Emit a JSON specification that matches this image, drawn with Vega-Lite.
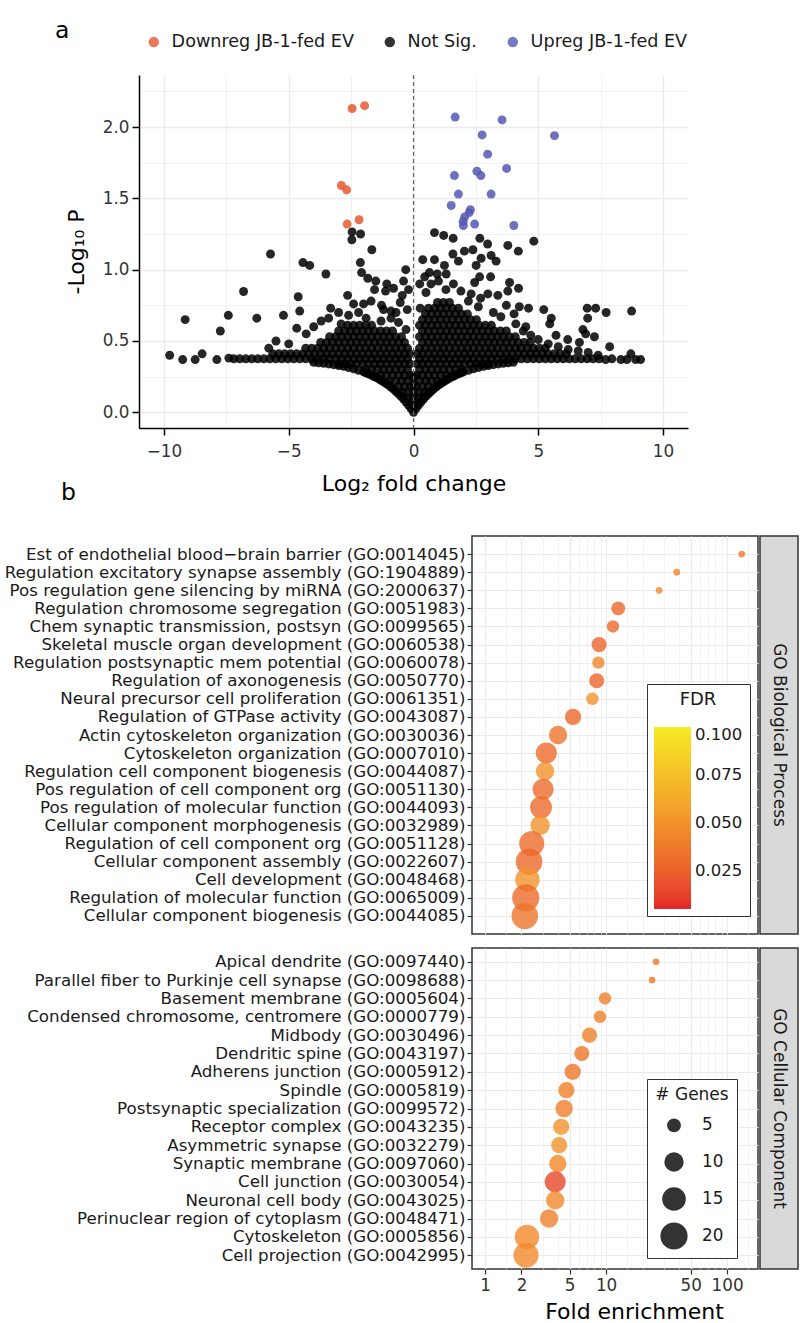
{
  "$schema": "https://vega.github.io/schema/vega-lite/v6.json",
  "background": "white",
  "padding": {"left": 2, "right": 2, "top": 18, "bottom": 0},
  "config": {
    "font": "DejaVu Sans",
    "view": {"stroke": null},
    "title": {"fontWeight": "normal", "fontSize": 23.5, "color": "#000000", "font": "DejaVu Sans"},
    "axis": {"labelFont": "DejaVu Sans", "titleFont": "DejaVu Sans", "titleFontWeight": "normal", "labelColor": "#333333", "titleColor": "#000000", "gridColor": "#EBEBEB", "labelFontSize": 16.8},
    "legend": {"labelFont": "DejaVu Sans", "titleFont": "DejaVu Sans", "titleFontWeight": "normal"}
  },
  "columns": 1,
  "spacing": -14,
  "align": "none",
  "resolve": {"scale": {"x": "independent", "y": "independent", "color": "independent", "size": "independent"}},
  "concat": [
    {
      "spacing": 0,
      "resolve": {"scale": {"x": "independent", "y": "independent", "color": "independent", "size": "independent"}},
      "hconcat": [
        {"width": 53, "height": 10, "data": {"values": [{"k": 1}]}, "mark": {"type": "text", "text": ""}, "encoding": {}},
        {
          "width": 549,
          "height": 353,
          "title": {"text": "a", "anchor": "start", "frame": "group", "dx": -84, "offset": -9},
          "layer": [
            {
              "data": {"values": [
{"lfc":0,"nlp":0,"g":"N"},{"lfc":0,"nlp":0.05,"g":"N"},{"lfc":0,"nlp":0.1,"g":"N"},{"lfc":0,"nlp":0.15,"g":"N"},{"lfc":0,"nlp":0.2,"g":"N"},{"lfc":0,"nlp":0.25,"g":"N"},
{"lfc":-0.1,"nlp":0.026,"g":"N"},{"lfc":-0.2,"nlp":0.05,"g":"N"},{"lfc":-0.3,"nlp":0.072,"g":"N"},{"lfc":-0.4,"nlp":0.093,"g":"N"},{"lfc":-0.5,"nlp":0.112,"g":"N"},{"lfc":-0.6,"nlp":0.13,"g":"N"},{"lfc":-0.7,"nlp":0.146,"g":"N"},{"lfc":-0.8,"nlp":0.162,"g":"N"},{"lfc":-0.9,"nlp":0.176,"g":"N"},{"lfc":-1.0,"nlp":0.19,"g":"N"},{"lfc":-1.1,"nlp":0.202,"g":"N"},{"lfc":-1.2,"nlp":0.214,"g":"N"},{"lfc":-1.3,"nlp":0.225,"g":"N"},{"lfc":-1.4,"nlp":0.235,"g":"N"},{"lfc":-1.5,"nlp":0.245,"g":"N"},{"lfc":-1.6,"nlp":0.253,"g":"N"},{"lfc":-1.7,"nlp":0.262,"g":"N"},{"lfc":-1.8,"nlp":0.269,"g":"N"},{"lfc":-1.9,"nlp":0.276,"g":"N"},{"lfc":-2.0,"nlp":0.283,"g":"N"},{"lfc":-2.2,"nlp":0.295,"g":"N"},{"lfc":-2.4,"nlp":0.305,"g":"N"},{"lfc":-2.6,"nlp":0.314,"g":"N"},{"lfc":-2.8,"nlp":0.322,"g":"N"},{"lfc":-3.0,"nlp":0.328,"g":"N"},{"lfc":-3.2,"nlp":0.334,"g":"N"},{"lfc":-3.4,"nlp":0.339,"g":"N"},{"lfc":-3.6,"nlp":0.344,"g":"N"},{"lfc":-3.8,"nlp":0.347,"g":"N"},{"lfc":-4.0,"nlp":0.351,"g":"N"},
{"lfc":0.1,"nlp":0.026,"g":"N"},{"lfc":0.2,"nlp":0.05,"g":"N"},{"lfc":0.3,"nlp":0.072,"g":"N"},{"lfc":0.4,"nlp":0.093,"g":"N"},{"lfc":0.5,"nlp":0.112,"g":"N"},{"lfc":0.6,"nlp":0.13,"g":"N"},{"lfc":0.7,"nlp":0.146,"g":"N"},{"lfc":0.8,"nlp":0.162,"g":"N"},{"lfc":0.9,"nlp":0.176,"g":"N"},{"lfc":1.0,"nlp":0.19,"g":"N"},{"lfc":1.1,"nlp":0.202,"g":"N"},{"lfc":1.2,"nlp":0.214,"g":"N"},{"lfc":1.3,"nlp":0.225,"g":"N"},{"lfc":1.4,"nlp":0.235,"g":"N"},{"lfc":1.5,"nlp":0.245,"g":"N"},{"lfc":1.6,"nlp":0.253,"g":"N"},{"lfc":1.7,"nlp":0.262,"g":"N"},{"lfc":1.8,"nlp":0.269,"g":"N"},{"lfc":1.9,"nlp":0.276,"g":"N"},{"lfc":2.0,"nlp":0.283,"g":"N"},{"lfc":2.2,"nlp":0.295,"g":"N"},{"lfc":2.4,"nlp":0.305,"g":"N"},{"lfc":2.6,"nlp":0.314,"g":"N"},{"lfc":2.8,"nlp":0.322,"g":"N"},{"lfc":3.0,"nlp":0.328,"g":"N"},{"lfc":3.2,"nlp":0.334,"g":"N"},{"lfc":3.4,"nlp":0.339,"g":"N"},{"lfc":3.6,"nlp":0.344,"g":"N"},{"lfc":3.8,"nlp":0.347,"g":"N"},{"lfc":4.0,"nlp":0.351,"g":"N"},
{"lfc":-0.2,"nlp":0.1,"g":"N"},{"lfc":0.2,"nlp":0.1,"g":"N"},
{"lfc":-0.22,"nlp":0.14,"g":"N"},{"lfc":-0.44,"nlp":0.14,"g":"N"},{"lfc":0.22,"nlp":0.14,"g":"N"},{"lfc":0.44,"nlp":0.14,"g":"N"},
{"lfc":-0.12,"nlp":0.18,"g":"N"},{"lfc":-0.36,"nlp":0.18,"g":"N"},{"lfc":-0.6,"nlp":0.18,"g":"N"},{"lfc":0.12,"nlp":0.18,"g":"N"},{"lfc":0.36,"nlp":0.18,"g":"N"},{"lfc":0.6,"nlp":0.18,"g":"N"},
{"lfc":-0.24,"nlp":0.22,"g":"N"},{"lfc":-0.48,"nlp":0.22,"g":"N"},{"lfc":-0.72,"nlp":0.22,"g":"N"},{"lfc":-0.96,"nlp":0.22,"g":"N"},{"lfc":0.24,"nlp":0.22,"g":"N"},{"lfc":0.48,"nlp":0.22,"g":"N"},{"lfc":0.72,"nlp":0.22,"g":"N"},{"lfc":0.96,"nlp":0.22,"g":"N"},
{"lfc":-0.12,"nlp":0.26,"g":"N"},{"lfc":-0.36,"nlp":0.26,"g":"N"},{"lfc":-0.6,"nlp":0.26,"g":"N"},{"lfc":-0.84,"nlp":0.26,"g":"N"},{"lfc":-1.08,"nlp":0.26,"g":"N"},{"lfc":-1.32,"nlp":0.26,"g":"N"},{"lfc":0.12,"nlp":0.26,"g":"N"},{"lfc":0.36,"nlp":0.26,"g":"N"},{"lfc":0.6,"nlp":0.26,"g":"N"},{"lfc":0.84,"nlp":0.26,"g":"N"},{"lfc":1.08,"nlp":0.26,"g":"N"},{"lfc":1.32,"nlp":0.26,"g":"N"},
{"lfc":-0.24,"nlp":0.3,"g":"N"},{"lfc":-0.48,"nlp":0.3,"g":"N"},{"lfc":-0.72,"nlp":0.3,"g":"N"},{"lfc":-0.96,"nlp":0.3,"g":"N"},{"lfc":-1.2,"nlp":0.3,"g":"N"},{"lfc":-1.44,"nlp":0.3,"g":"N"},{"lfc":-1.68,"nlp":0.3,"g":"N"},{"lfc":-1.92,"nlp":0.3,"g":"N"},{"lfc":0.24,"nlp":0.3,"g":"N"},{"lfc":0.48,"nlp":0.3,"g":"N"},{"lfc":0.72,"nlp":0.3,"g":"N"},{"lfc":0.96,"nlp":0.3,"g":"N"},{"lfc":1.2,"nlp":0.3,"g":"N"},{"lfc":1.44,"nlp":0.3,"g":"N"},{"lfc":1.68,"nlp":0.3,"g":"N"},{"lfc":1.92,"nlp":0.3,"g":"N"},
{"lfc":-0.14,"nlp":0.34,"g":"N"},{"lfc":-0.36,"nlp":0.34,"g":"N"},{"lfc":-0.6,"nlp":0.34,"g":"N"},{"lfc":-0.84,"nlp":0.34,"g":"N"},{"lfc":-1.08,"nlp":0.34,"g":"N"},{"lfc":-1.32,"nlp":0.34,"g":"N"},{"lfc":-1.56,"nlp":0.34,"g":"N"},{"lfc":-1.8,"nlp":0.34,"g":"N"},{"lfc":-2.04,"nlp":0.34,"g":"N"},{"lfc":-2.28,"nlp":0.34,"g":"N"},{"lfc":-2.52,"nlp":0.34,"g":"N"},{"lfc":-2.76,"nlp":0.34,"g":"N"},{"lfc":-3.0,"nlp":0.34,"g":"N"},
{"lfc":0.14,"nlp":0.34,"g":"N"},{"lfc":0.36,"nlp":0.34,"g":"N"},{"lfc":0.6,"nlp":0.34,"g":"N"},{"lfc":0.84,"nlp":0.34,"g":"N"},{"lfc":1.08,"nlp":0.34,"g":"N"},{"lfc":1.32,"nlp":0.34,"g":"N"},{"lfc":1.56,"nlp":0.34,"g":"N"},{"lfc":1.8,"nlp":0.34,"g":"N"},{"lfc":2.04,"nlp":0.34,"g":"N"},{"lfc":2.28,"nlp":0.34,"g":"N"},{"lfc":2.52,"nlp":0.34,"g":"N"},{"lfc":2.76,"nlp":0.34,"g":"N"},{"lfc":3.0,"nlp":0.34,"g":"N"},
{"lfc":-0.24,"nlp":0.375,"g":"N"},{"lfc":-0.48,"nlp":0.375,"g":"N"},{"lfc":-0.72,"nlp":0.375,"g":"N"},{"lfc":-0.96,"nlp":0.375,"g":"N"},{"lfc":-1.2,"nlp":0.375,"g":"N"},{"lfc":-1.44,"nlp":0.375,"g":"N"},{"lfc":-1.68,"nlp":0.375,"g":"N"},{"lfc":-1.92,"nlp":0.375,"g":"N"},{"lfc":-2.16,"nlp":0.375,"g":"N"},{"lfc":-2.4,"nlp":0.375,"g":"N"},{"lfc":-2.64,"nlp":0.375,"g":"N"},{"lfc":-2.88,"nlp":0.375,"g":"N"},{"lfc":-3.12,"nlp":0.375,"g":"N"},{"lfc":-3.36,"nlp":0.375,"g":"N"},{"lfc":-3.6,"nlp":0.375,"g":"N"},{"lfc":-3.84,"nlp":0.375,"g":"N"},{"lfc":-4.08,"nlp":0.375,"g":"N"},{"lfc":-4.32,"nlp":0.375,"g":"N"},{"lfc":-4.56,"nlp":0.375,"g":"N"},{"lfc":-4.8,"nlp":0.375,"g":"N"},{"lfc":-5.04,"nlp":0.375,"g":"N"},{"lfc":-5.28,"nlp":0.375,"g":"N"},{"lfc":-5.52,"nlp":0.375,"g":"N"},{"lfc":-5.76,"nlp":0.375,"g":"N"},{"lfc":-6.0,"nlp":0.375,"g":"N"},{"lfc":-6.24,"nlp":0.375,"g":"N"},{"lfc":-6.48,"nlp":0.375,"g":"N"},{"lfc":-6.72,"nlp":0.375,"g":"N"},{"lfc":-6.96,"nlp":0.375,"g":"N"},{"lfc":-7.2,"nlp":0.375,"g":"N"},
{"lfc":0.24,"nlp":0.375,"g":"N"},{"lfc":0.48,"nlp":0.375,"g":"N"},{"lfc":0.72,"nlp":0.375,"g":"N"},{"lfc":0.96,"nlp":0.375,"g":"N"},{"lfc":1.2,"nlp":0.375,"g":"N"},{"lfc":1.44,"nlp":0.375,"g":"N"},{"lfc":1.68,"nlp":0.375,"g":"N"},{"lfc":1.92,"nlp":0.375,"g":"N"},{"lfc":2.16,"nlp":0.375,"g":"N"},{"lfc":2.4,"nlp":0.375,"g":"N"},{"lfc":2.64,"nlp":0.375,"g":"N"},{"lfc":2.88,"nlp":0.375,"g":"N"},{"lfc":3.12,"nlp":0.375,"g":"N"},{"lfc":3.36,"nlp":0.375,"g":"N"},{"lfc":3.6,"nlp":0.375,"g":"N"},{"lfc":3.84,"nlp":0.375,"g":"N"},{"lfc":4.08,"nlp":0.375,"g":"N"},{"lfc":4.32,"nlp":0.375,"g":"N"},{"lfc":4.56,"nlp":0.375,"g":"N"},{"lfc":4.8,"nlp":0.375,"g":"N"},{"lfc":5.04,"nlp":0.375,"g":"N"},{"lfc":5.28,"nlp":0.375,"g":"N"},{"lfc":5.52,"nlp":0.375,"g":"N"},{"lfc":5.76,"nlp":0.375,"g":"N"},{"lfc":6.0,"nlp":0.375,"g":"N"},{"lfc":6.24,"nlp":0.375,"g":"N"},{"lfc":6.48,"nlp":0.375,"g":"N"},{"lfc":6.72,"nlp":0.375,"g":"N"},{"lfc":6.96,"nlp":0.375,"g":"N"},{"lfc":7.2,"nlp":0.375,"g":"N"},{"lfc":7.44,"nlp":0.375,"g":"N"},
{"lfc":-0.14,"nlp":0.41,"g":"N"},{"lfc":-0.36,"nlp":0.41,"g":"N"},{"lfc":-0.6,"nlp":0.41,"g":"N"},{"lfc":-0.84,"nlp":0.41,"g":"N"},{"lfc":-1.08,"nlp":0.41,"g":"N"},{"lfc":-1.32,"nlp":0.41,"g":"N"},{"lfc":-1.56,"nlp":0.41,"g":"N"},{"lfc":-1.8,"nlp":0.41,"g":"N"},{"lfc":-2.04,"nlp":0.41,"g":"N"},{"lfc":-2.28,"nlp":0.41,"g":"N"},{"lfc":-2.52,"nlp":0.41,"g":"N"},{"lfc":-2.76,"nlp":0.41,"g":"N"},{"lfc":-3.0,"nlp":0.41,"g":"N"},{"lfc":-3.24,"nlp":0.41,"g":"N"},{"lfc":-3.48,"nlp":0.41,"g":"N"},{"lfc":-3.72,"nlp":0.41,"g":"N"},{"lfc":-3.96,"nlp":0.41,"g":"N"},{"lfc":-4.2,"nlp":0.41,"g":"N"},{"lfc":-4.44,"nlp":0.41,"g":"N"},{"lfc":-4.68,"nlp":0.41,"g":"N"},{"lfc":-4.92,"nlp":0.41,"g":"N"},{"lfc":-5.16,"nlp":0.41,"g":"N"},{"lfc":-5.4,"nlp":0.41,"g":"N"},{"lfc":-5.64,"nlp":0.41,"g":"N"},
{"lfc":-0.24,"nlp":0.45,"g":"N"},{"lfc":-0.48,"nlp":0.45,"g":"N"},{"lfc":-0.72,"nlp":0.45,"g":"N"},{"lfc":-0.96,"nlp":0.45,"g":"N"},{"lfc":-1.2,"nlp":0.45,"g":"N"},{"lfc":-1.44,"nlp":0.45,"g":"N"},{"lfc":-1.68,"nlp":0.45,"g":"N"},{"lfc":-1.92,"nlp":0.45,"g":"N"},{"lfc":-2.16,"nlp":0.45,"g":"N"},{"lfc":-2.4,"nlp":0.45,"g":"N"},{"lfc":-2.64,"nlp":0.45,"g":"N"},{"lfc":-2.88,"nlp":0.45,"g":"N"},{"lfc":-3.12,"nlp":0.45,"g":"N"},{"lfc":-3.36,"nlp":0.45,"g":"N"},{"lfc":-3.6,"nlp":0.45,"g":"N"},{"lfc":-3.84,"nlp":0.45,"g":"N"},{"lfc":-4.08,"nlp":0.45,"g":"N"},{"lfc":-4.32,"nlp":0.45,"g":"N"},
{"lfc":-0.36,"nlp":0.49,"g":"N"},{"lfc":-0.6,"nlp":0.49,"g":"N"},{"lfc":-0.84,"nlp":0.49,"g":"N"},{"lfc":-1.08,"nlp":0.49,"g":"N"},{"lfc":-1.32,"nlp":0.49,"g":"N"},{"lfc":-1.56,"nlp":0.49,"g":"N"},{"lfc":-1.8,"nlp":0.49,"g":"N"},{"lfc":-2.04,"nlp":0.49,"g":"N"},{"lfc":-2.28,"nlp":0.49,"g":"N"},{"lfc":-2.52,"nlp":0.49,"g":"N"},{"lfc":-2.76,"nlp":0.49,"g":"N"},{"lfc":-3.0,"nlp":0.49,"g":"N"},{"lfc":-3.24,"nlp":0.49,"g":"N"},{"lfc":-3.48,"nlp":0.49,"g":"N"},{"lfc":-3.72,"nlp":0.49,"g":"N"},
{"lfc":-0.48,"nlp":0.53,"g":"N"},{"lfc":-0.72,"nlp":0.53,"g":"N"},{"lfc":-0.96,"nlp":0.53,"g":"N"},{"lfc":-1.2,"nlp":0.53,"g":"N"},{"lfc":-1.44,"nlp":0.53,"g":"N"},{"lfc":-1.68,"nlp":0.53,"g":"N"},{"lfc":-1.92,"nlp":0.53,"g":"N"},{"lfc":-2.16,"nlp":0.53,"g":"N"},{"lfc":-2.4,"nlp":0.53,"g":"N"},{"lfc":-2.64,"nlp":0.53,"g":"N"},{"lfc":-2.88,"nlp":0.53,"g":"N"},{"lfc":-3.12,"nlp":0.53,"g":"N"},{"lfc":-3.36,"nlp":0.53,"g":"N"},
{"lfc":-0.84,"nlp":0.57,"g":"N"},{"lfc":-1.08,"nlp":0.57,"g":"N"},{"lfc":-1.32,"nlp":0.57,"g":"N"},{"lfc":-1.56,"nlp":0.57,"g":"N"},{"lfc":-1.8,"nlp":0.57,"g":"N"},{"lfc":-2.04,"nlp":0.57,"g":"N"},{"lfc":-2.28,"nlp":0.57,"g":"N"},{"lfc":-2.52,"nlp":0.57,"g":"N"},{"lfc":-2.76,"nlp":0.57,"g":"N"},{"lfc":-3.0,"nlp":0.57,"g":"N"},
{"lfc":-1.68,"nlp":0.61,"g":"N"},{"lfc":-1.92,"nlp":0.61,"g":"N"},{"lfc":-2.16,"nlp":0.61,"g":"N"},{"lfc":-2.4,"nlp":0.61,"g":"N"},{"lfc":-2.64,"nlp":0.61,"g":"N"},
{"lfc":0.14,"nlp":0.41,"g":"N"},{"lfc":0.36,"nlp":0.41,"g":"N"},{"lfc":0.6,"nlp":0.41,"g":"N"},{"lfc":0.84,"nlp":0.41,"g":"N"},{"lfc":1.08,"nlp":0.41,"g":"N"},{"lfc":1.32,"nlp":0.41,"g":"N"},{"lfc":1.56,"nlp":0.41,"g":"N"},{"lfc":1.8,"nlp":0.41,"g":"N"},{"lfc":2.04,"nlp":0.41,"g":"N"},{"lfc":2.28,"nlp":0.41,"g":"N"},{"lfc":2.52,"nlp":0.41,"g":"N"},{"lfc":2.76,"nlp":0.41,"g":"N"},{"lfc":3.0,"nlp":0.41,"g":"N"},{"lfc":3.24,"nlp":0.41,"g":"N"},{"lfc":3.48,"nlp":0.41,"g":"N"},{"lfc":3.72,"nlp":0.41,"g":"N"},{"lfc":3.96,"nlp":0.41,"g":"N"},{"lfc":4.2,"nlp":0.41,"g":"N"},{"lfc":4.44,"nlp":0.41,"g":"N"},{"lfc":4.68,"nlp":0.41,"g":"N"},{"lfc":4.92,"nlp":0.41,"g":"N"},{"lfc":5.16,"nlp":0.41,"g":"N"},{"lfc":5.4,"nlp":0.41,"g":"N"},{"lfc":5.64,"nlp":0.41,"g":"N"},{"lfc":5.88,"nlp":0.41,"g":"N"},{"lfc":6.12,"nlp":0.41,"g":"N"},
{"lfc":0.24,"nlp":0.45,"g":"N"},{"lfc":0.48,"nlp":0.45,"g":"N"},{"lfc":0.72,"nlp":0.45,"g":"N"},{"lfc":0.96,"nlp":0.45,"g":"N"},{"lfc":1.2,"nlp":0.45,"g":"N"},{"lfc":1.44,"nlp":0.45,"g":"N"},{"lfc":1.68,"nlp":0.45,"g":"N"},{"lfc":1.92,"nlp":0.45,"g":"N"},{"lfc":2.16,"nlp":0.45,"g":"N"},{"lfc":2.4,"nlp":0.45,"g":"N"},{"lfc":2.64,"nlp":0.45,"g":"N"},{"lfc":2.88,"nlp":0.45,"g":"N"},{"lfc":3.12,"nlp":0.45,"g":"N"},{"lfc":3.36,"nlp":0.45,"g":"N"},{"lfc":3.6,"nlp":0.45,"g":"N"},{"lfc":3.84,"nlp":0.45,"g":"N"},{"lfc":4.08,"nlp":0.45,"g":"N"},{"lfc":4.32,"nlp":0.45,"g":"N"},{"lfc":4.56,"nlp":0.45,"g":"N"},{"lfc":4.8,"nlp":0.45,"g":"N"},{"lfc":5.04,"nlp":0.45,"g":"N"},{"lfc":5.28,"nlp":0.45,"g":"N"},
{"lfc":0.36,"nlp":0.49,"g":"N"},{"lfc":0.6,"nlp":0.49,"g":"N"},{"lfc":0.84,"nlp":0.49,"g":"N"},{"lfc":1.08,"nlp":0.49,"g":"N"},{"lfc":1.32,"nlp":0.49,"g":"N"},{"lfc":1.56,"nlp":0.49,"g":"N"},{"lfc":1.8,"nlp":0.49,"g":"N"},{"lfc":2.04,"nlp":0.49,"g":"N"},{"lfc":2.28,"nlp":0.49,"g":"N"},{"lfc":2.52,"nlp":0.49,"g":"N"},{"lfc":2.76,"nlp":0.49,"g":"N"},{"lfc":3.0,"nlp":0.49,"g":"N"},{"lfc":3.24,"nlp":0.49,"g":"N"},{"lfc":3.48,"nlp":0.49,"g":"N"},{"lfc":3.72,"nlp":0.49,"g":"N"},{"lfc":3.96,"nlp":0.49,"g":"N"},{"lfc":4.2,"nlp":0.49,"g":"N"},{"lfc":4.44,"nlp":0.49,"g":"N"},{"lfc":4.68,"nlp":0.49,"g":"N"},
{"lfc":0.24,"nlp":0.53,"g":"N"},{"lfc":0.48,"nlp":0.53,"g":"N"},{"lfc":0.72,"nlp":0.53,"g":"N"},{"lfc":0.96,"nlp":0.53,"g":"N"},{"lfc":1.2,"nlp":0.53,"g":"N"},{"lfc":1.44,"nlp":0.53,"g":"N"},{"lfc":1.68,"nlp":0.53,"g":"N"},{"lfc":1.92,"nlp":0.53,"g":"N"},{"lfc":2.16,"nlp":0.53,"g":"N"},{"lfc":2.4,"nlp":0.53,"g":"N"},{"lfc":2.64,"nlp":0.53,"g":"N"},{"lfc":2.88,"nlp":0.53,"g":"N"},{"lfc":3.12,"nlp":0.53,"g":"N"},{"lfc":3.36,"nlp":0.53,"g":"N"},{"lfc":3.6,"nlp":0.53,"g":"N"},{"lfc":3.84,"nlp":0.53,"g":"N"},{"lfc":4.08,"nlp":0.53,"g":"N"},
{"lfc":0.36,"nlp":0.57,"g":"N"},{"lfc":0.6,"nlp":0.57,"g":"N"},{"lfc":0.84,"nlp":0.57,"g":"N"},{"lfc":1.08,"nlp":0.57,"g":"N"},{"lfc":1.32,"nlp":0.57,"g":"N"},{"lfc":1.56,"nlp":0.57,"g":"N"},{"lfc":1.8,"nlp":0.57,"g":"N"},{"lfc":2.04,"nlp":0.57,"g":"N"},{"lfc":2.28,"nlp":0.57,"g":"N"},{"lfc":2.52,"nlp":0.57,"g":"N"},{"lfc":2.76,"nlp":0.57,"g":"N"},{"lfc":3.0,"nlp":0.57,"g":"N"},{"lfc":3.24,"nlp":0.57,"g":"N"},{"lfc":3.48,"nlp":0.57,"g":"N"},{"lfc":3.72,"nlp":0.57,"g":"N"},
{"lfc":0.24,"nlp":0.61,"g":"N"},{"lfc":0.48,"nlp":0.61,"g":"N"},{"lfc":0.72,"nlp":0.61,"g":"N"},{"lfc":0.96,"nlp":0.61,"g":"N"},{"lfc":1.2,"nlp":0.61,"g":"N"},{"lfc":1.44,"nlp":0.61,"g":"N"},{"lfc":1.68,"nlp":0.61,"g":"N"},{"lfc":1.92,"nlp":0.61,"g":"N"},{"lfc":2.16,"nlp":0.61,"g":"N"},{"lfc":2.4,"nlp":0.61,"g":"N"},{"lfc":2.64,"nlp":0.61,"g":"N"},{"lfc":2.88,"nlp":0.61,"g":"N"},{"lfc":3.12,"nlp":0.61,"g":"N"},
{"lfc":0.36,"nlp":0.65,"g":"N"},{"lfc":0.6,"nlp":0.65,"g":"N"},{"lfc":0.84,"nlp":0.65,"g":"N"},{"lfc":1.08,"nlp":0.65,"g":"N"},{"lfc":1.32,"nlp":0.65,"g":"N"},{"lfc":1.56,"nlp":0.65,"g":"N"},{"lfc":1.8,"nlp":0.65,"g":"N"},{"lfc":2.04,"nlp":0.65,"g":"N"},{"lfc":2.28,"nlp":0.65,"g":"N"},{"lfc":2.52,"nlp":0.65,"g":"N"},
{"lfc":0.48,"nlp":0.69,"g":"N"},{"lfc":0.72,"nlp":0.69,"g":"N"},{"lfc":0.96,"nlp":0.69,"g":"N"},{"lfc":1.2,"nlp":0.69,"g":"N"},{"lfc":1.44,"nlp":0.69,"g":"N"},{"lfc":1.68,"nlp":0.69,"g":"N"},{"lfc":1.92,"nlp":0.69,"g":"N"},{"lfc":2.16,"nlp":0.69,"g":"N"},
{"lfc":0.6,"nlp":0.73,"g":"N"},{"lfc":0.84,"nlp":0.73,"g":"N"},{"lfc":1.08,"nlp":0.73,"g":"N"},{"lfc":1.32,"nlp":0.73,"g":"N"},{"lfc":1.56,"nlp":0.73,"g":"N"},{"lfc":1.8,"nlp":0.73,"g":"N"},
{"lfc":0.96,"nlp":0.77,"g":"N"},{"lfc":1.2,"nlp":0.77,"g":"N"},{"lfc":1.44,"nlp":0.77,"g":"N"},
{"lfc":-2.46,"nlp":1.265,"g":"N"},{"lfc":-2.47,"nlp":1.21,"g":"N"},{"lfc":-2.12,"nlp":1.25,"g":"N"},{"lfc":-1.67,"nlp":1.14,"g":"N"},{"lfc":-5.73,"nlp":1.11,"g":"N"},{"lfc":-4.43,"nlp":1.05,"g":"N"},{"lfc":-4.16,"nlp":1.03,"g":"N"},{"lfc":-3.51,"nlp":0.97,"g":"N"},{"lfc":-2.13,"nlp":1.05,"g":"N"},{"lfc":-2.08,"nlp":0.98,"g":"N"},{"lfc":-0.31,"nlp":1.0,"g":"N"},{"lfc":-0.4,"nlp":0.92,"g":"N"},{"lfc":-1.07,"nlp":0.9,"g":"N"},{"lfc":-0.8,"nlp":0.87,"g":"N"},{"lfc":-1.51,"nlp":0.92,"g":"N"},{"lfc":-1.83,"nlp":0.94,"g":"N"},{"lfc":-6.81,"nlp":0.847,"g":"N"},{"lfc":-4.62,"nlp":0.81,"g":"N"},{"lfc":-2.64,"nlp":0.82,"g":"N"},{"lfc":-0.53,"nlp":0.77,"g":"N"},{"lfc":-1.7,"nlp":0.78,"g":"N"},{"lfc":-9.15,"nlp":0.65,"g":"N"},{"lfc":-7.42,"nlp":0.68,"g":"N"},{"lfc":-6.28,"nlp":0.66,"g":"N"},{"lfc":-5.21,"nlp":0.68,"g":"N"},{"lfc":-7.74,"nlp":0.57,"g":"N"},{"lfc":-9.77,"nlp":0.4,"g":"N"},{"lfc":-9.25,"nlp":0.37,"g":"N"},{"lfc":-8.75,"nlp":0.37,"g":"N"},{"lfc":-8.47,"nlp":0.41,"g":"N"},{"lfc":-7.88,"nlp":0.37,"g":"N"},{"lfc":-7.4,"nlp":0.38,"g":"N"},{"lfc":-5.51,"nlp":0.5,"g":"N"},{"lfc":-4.68,"nlp":0.59,"g":"N"},{"lfc":-4.56,"nlp":0.71,"g":"N"},{"lfc":-3.32,"nlp":0.73,"g":"N"},
{"lfc":-3.4,"nlp":0.66,"g":"N"},{"lfc":-3.0,"nlp":0.7,"g":"N"},{"lfc":-2.6,"nlp":0.68,"g":"N"},{"lfc":-2.2,"nlp":0.7,"g":"N"},{"lfc":-1.9,"nlp":0.66,"g":"N"},{"lfc":-1.3,"nlp":0.64,"g":"N"},{"lfc":-0.9,"nlp":0.66,"g":"N"},{"lfc":-0.6,"nlp":0.63,"g":"N"},{"lfc":-0.3,"nlp":0.58,"g":"N"},{"lfc":-4.0,"nlp":0.6,"g":"N"},{"lfc":-4.3,"nlp":0.55,"g":"N"},{"lfc":-2.0,"nlp":0.76,"g":"N"},{"lfc":-1.2,"nlp":0.72,"g":"N"},{"lfc":-0.7,"nlp":0.7,"g":"N"},{"lfc":-1.28,"nlp":0.75,"g":"N"},{"lfc":-0.9,"nlp":0.71,"g":"N"},{"lfc":-0.25,"nlp":0.72,"g":"N"},{"lfc":-0.45,"nlp":0.82,"g":"N"},{"lfc":-1.56,"nlp":0.86,"g":"N"},{"lfc":-2.4,"nlp":0.76,"g":"N"},{"lfc":-5.0,"nlp":0.48,"g":"N"},{"lfc":-5.8,"nlp":0.45,"g":"N"},{"lfc":-1.12,"nlp":0.85,"g":"N"},{"lfc":-0.2,"nlp":0.86,"g":"N"},{"lfc":-2.9,"nlp":0.62,"g":"N"},{"lfc":-3.7,"nlp":0.64,"g":"N"},
{"lfc":0.84,"nlp":1.26,"g":"N"},{"lfc":1.21,"nlp":1.24,"g":"N"},{"lfc":1.59,"nlp":1.22,"g":"N"},{"lfc":2.66,"nlp":1.22,"g":"N"},{"lfc":2.97,"nlp":1.18,"g":"N"},{"lfc":4.82,"nlp":1.2,"g":"N"},{"lfc":3.78,"nlp":1.17,"g":"N"},{"lfc":4.2,"nlp":1.13,"g":"N"},{"lfc":1.58,"nlp":1.11,"g":"N"},{"lfc":2.04,"nlp":1.13,"g":"N"},{"lfc":2.38,"nlp":1.14,"g":"N"},{"lfc":0.37,"nlp":1.07,"g":"N"},{"lfc":0.84,"nlp":1.07,"g":"N"},{"lfc":1.24,"nlp":1.03,"g":"N"},{"lfc":1.8,"nlp":1.06,"g":"N"},{"lfc":2.51,"nlp":1.03,"g":"N"},{"lfc":2.71,"nlp":1.08,"g":"N"},{"lfc":3.11,"nlp":1.1,"g":"N"},{"lfc":3.31,"nlp":1.06,"g":"N"},{"lfc":0.64,"nlp":0.98,"g":"N"},{"lfc":0.95,"nlp":0.97,"g":"N"},{"lfc":1.31,"nlp":0.97,"g":"N"},{"lfc":2.65,"nlp":0.95,"g":"N"},{"lfc":3.09,"nlp":0.95,"g":"N"},{"lfc":2.45,"nlp":0.91,"g":"N"},{"lfc":3.85,"nlp":0.91,"g":"N"},{"lfc":4.21,"nlp":0.87,"g":"N"},{"lfc":3.78,"nlp":0.85,"g":"N"},{"lfc":3.38,"nlp":0.82,"g":"N"},{"lfc":2.98,"nlp":0.83,"g":"N"},{"lfc":2.69,"nlp":0.8,"g":"N"},{"lfc":2.31,"nlp":0.83,"g":"N"},{"lfc":4.61,"nlp":0.73,"g":"N"},{"lfc":5.22,"nlp":0.72,"g":"N"},{"lfc":5.52,"nlp":0.66,"g":"N"},{"lfc":6.96,"nlp":0.73,"g":"N"},{"lfc":7.3,"nlp":0.73,"g":"N"},{"lfc":7.72,"nlp":0.7,"g":"N"},{"lfc":8.74,"nlp":0.71,"g":"N"},{"lfc":6.98,"nlp":0.66,"g":"N"},{"lfc":6.79,"nlp":0.58,"g":"N"},{"lfc":6.9,"nlp":0.55,"g":"N"},{"lfc":7.25,"nlp":0.53,"g":"N"},{"lfc":7.86,"nlp":0.46,"g":"N"},{"lfc":6.18,"nlp":0.51,"g":"N"},{"lfc":5.71,"nlp":0.54,"g":"N"},{"lfc":6.65,"nlp":0.49,"g":"N"},{"lfc":0.27,"nlp":0.73,"g":"N"},{"lfc":4.24,"nlp":0.74,"g":"N"},{"lfc":3.72,"nlp":0.75,"g":"N"},{"lfc":8.31,"nlp":0.37,"g":"N"},{"lfc":9.1,"nlp":0.37,"g":"N"},{"lfc":8.71,"nlp":0.41,"g":"N"},{"lfc":7.7,"nlp":0.37,"g":"N"},{"lfc":7.95,"nlp":0.375,"g":"N"},{"lfc":8.55,"nlp":0.37,"g":"N"},{"lfc":8.9,"nlp":0.37,"g":"N"},{"lfc":5.46,"nlp":0.62,"g":"N"},{"lfc":4.03,"nlp":0.69,"g":"N"},{"lfc":4.5,"nlp":0.6,"g":"N"},
{"lfc":0.5,"nlp":0.84,"g":"N"},{"lfc":0.7,"nlp":0.9,"g":"N"},{"lfc":1.0,"nlp":0.92,"g":"N"},{"lfc":1.6,"nlp":0.9,"g":"N"},{"lfc":1.9,"nlp":0.85,"g":"N"},{"lfc":2.2,"nlp":0.78,"g":"N"},{"lfc":2.6,"nlp":0.74,"g":"N"},{"lfc":3.2,"nlp":0.7,"g":"N"},{"lfc":3.5,"nlp":0.67,"g":"N"},{"lfc":4.1,"nlp":0.62,"g":"N"},{"lfc":4.4,"nlp":0.57,"g":"N"},{"lfc":4.7,"nlp":0.54,"g":"N"},{"lfc":5.0,"nlp":0.51,"g":"N"},{"lfc":5.4,"nlp":0.48,"g":"N"},{"lfc":5.8,"nlp":0.46,"g":"N"},{"lfc":6.2,"nlp":0.44,"g":"N"},{"lfc":6.6,"nlp":0.43,"g":"N"},{"lfc":7.0,"nlp":0.42,"g":"N"},{"lfc":7.4,"nlp":0.4,"g":"N"},{"lfc":0.45,"nlp":0.95,"g":"N"},{"lfc":1.3,"nlp":0.86,"g":"N"},{"lfc":0.25,"nlp":0.9,"g":"N"},
{"lfc":-2.46,"nlp":2.13,"g":"D"},{"lfc":-1.96,"nlp":2.15,"g":"D"},{"lfc":-2.89,"nlp":1.59,"g":"D"},{"lfc":-2.68,"nlp":1.56,"g":"D"},{"lfc":-2.18,"nlp":1.35,"g":"D"},{"lfc":-2.66,"nlp":1.32,"g":"D"},
{"lfc":1.67,"nlp":2.07,"g":"U"},{"lfc":3.55,"nlp":2.05,"g":"U"},{"lfc":5.65,"nlp":1.94,"g":"U"},{"lfc":2.75,"nlp":1.945,"g":"U"},{"lfc":2.97,"nlp":1.81,"g":"U"},{"lfc":3.73,"nlp":1.71,"g":"U"},{"lfc":2.54,"nlp":1.69,"g":"U"},{"lfc":2.7,"nlp":1.66,"g":"U"},{"lfc":1.64,"nlp":1.66,"g":"U"},{"lfc":1.8,"nlp":1.53,"g":"U"},{"lfc":3.11,"nlp":1.53,"g":"U"},{"lfc":1.51,"nlp":1.45,"g":"U"},{"lfc":2.28,"nlp":1.42,"g":"U"},{"lfc":2.23,"nlp":1.4,"g":"U"},{"lfc":2.05,"nlp":1.37,"g":"U"},{"lfc":1.99,"nlp":1.34,"g":"U"},{"lfc":2.0,"nlp":1.31,"g":"U"},{"lfc":2.45,"nlp":1.32,"g":"U"},{"lfc":4.02,"nlp":1.31,"g":"U"}
              ]},
              "mark": {"type": "circle", "size": 80, "opacity": 0.85},
              "encoding": {
                "x": {"field": "lfc", "type": "quantitative",
                  "scale": {"domain": [-11, 11], "nice": false, "zero": false},
                  "axis": {"title": "Log₂ fold change", "titleFontSize": 22, "titlePadding": 14,
                    "values": [-10, -7.5, -5, -2.5, 0, 2.5, 5, 7.5, 10],
                    "labelExpr": "datum.value % 5 === 0 ? datum.label : ''",
                    "labelOverlap": false, "labelPadding": 8,
                    "domainColor": "#000000", "domainWidth": 1.5, "tickColor": "#000000", "tickWidth": 1.5, "tickSize": 7,
                    "tickOpacity": {"condition": {"test": "datum.value % 5 !== 0", "value": 0}, "value": 1},
                    "gridWidth": {"condition": {"test": "datum.value % 5 !== 0", "value": 0.7}, "value": 1.4}}},
                "y": {"field": "nlp", "type": "quantitative",
                  "scale": {"domain": [-0.11, 2.365], "nice": false, "zero": false},
                  "axis": {"title": "-Log₁₀ P", "titleFontSize": 22, "titlePadding": 14,
                    "values": [0, 0.25, 0.5, 0.75, 1, 1.25, 1.5, 1.75, 2, 2.25],
                    "format": ".1f",
                    "labelExpr": "(datum.value * 4) % 2 === 0 ? datum.label : ''",
                    "labelOverlap": false, "labelPadding": 3,
                    "domainColor": "#000000", "domainWidth": 1.5, "tickColor": "#000000", "tickWidth": 1.5, "tickSize": 7,
                    "tickOpacity": {"condition": {"test": "(datum.value * 4) % 2 !== 0", "value": 0}, "value": 1},
                    "gridWidth": {"condition": {"test": "(datum.value * 4) % 2 !== 0", "value": 0.7}, "value": 1.4}}},
                "color": {"field": "g", "type": "nominal",
                  "scale": {"domain": ["D", "N", "U"], "range": ["#E55931", "#000000", "#5559B3"]},
                  "legend": {"title": null, "orient": "none", "legendX": 6, "legendY": -42, "direction": "horizontal",
                    "labelExpr": "datum.label === 'D' ? 'Downreg JB-1-fed EV' : (datum.label === 'U' ? 'Upreg JB-1-fed EV' : 'Not Sig.')",
                    "labelFontSize": 17.6, "labelColor": "#1A1A1A", "labelLimit": 0, "symbolType": "circle", "symbolSize": 110, "symbolOpacity": 0.8,
                    "labelOffset": 9, "columnPadding": 27, "padding": 0}}
              }
            },
            {
              "data": {"values": [{"lfc": 0}]},
              "mark": {"type": "rule", "strokeDash": [4, 3], "color": "#666666", "strokeWidth": 1.2},
              "encoding": {"x": {"field": "lfc", "type": "quantitative"}}
            }
          ]
        }
      ]
    },
    {
      "title": {"text": "b", "anchor": "start", "frame": "bounds", "dx": 59, "offset": 26},
      "spacing": 0,
      "resolve": {"scale": {"x": "independent", "y": "independent", "color": "independent", "size": "independent"}},
      "hconcat": [
        {"width": 1, "height": 1, "data": {"values": [{"k": 1}]}, "mark": {"type": "text", "text": ""}, "encoding": {}},
        {
          "spacing": 12,
          "resolve": {"scale": {"x": "independent", "y": "independent", "color": "independent", "size": "independent"}},
          "vconcat": [
            {
              "width": 286,
              "height": 398,
              "view": {"stroke": "#333333", "strokeWidth": 1.5},
              "data": {"values": [
                {"term": "Est of endothelial blood−brain barrier (GO:0014045)", "fe": 132, "genes": 1, "fdr": 0.035},
                {"term": "Regulation excitatory synapse assembly (GO:1904889)", "fe": 38.4, "genes": 1, "fdr": 0.04},
                {"term": "Pos regulation gene silencing by miRNA (GO:2000637)", "fe": 27.4, "genes": 1, "fdr": 0.045},
                {"term": "Regulation chromosome segregation (GO:0051983)", "fe": 12.6, "genes": 5, "fdr": 0.028},
                {"term": "Chem synaptic transmission, postsyn (GO:0099565)", "fe": 11.4, "genes": 4, "fdr": 0.03},
                {"term": "Skeletal muscle organ development (GO:0060538)", "fe": 8.75, "genes": 6, "fdr": 0.027},
                {"term": "Regulation postsynaptic mem potential (GO:0060078)", "fe": 8.64, "genes": 4, "fdr": 0.045},
                {"term": "Regulation of axonogenesis (GO:0050770)", "fe": 8.37, "genes": 6, "fdr": 0.027},
                {"term": "Neural precursor cell proliferation (GO:0061351)", "fe": 7.71, "genes": 4, "fdr": 0.05},
                {"term": "Regulation of GTPase activity (GO:0043087)", "fe": 5.33, "genes": 7, "fdr": 0.028},
                {"term": "Actin cytoskeleton organization (GO:0030036)", "fe": 4.01, "genes": 9, "fdr": 0.035},
                {"term": "Cytoskeleton organization (GO:0007010)", "fe": 3.21, "genes": 12, "fdr": 0.03},
                {"term": "Regulation cell component biogenesis (GO:0044087)", "fe": 3.13, "genes": 9, "fdr": 0.05},
                {"term": "Pos regulation of cell component org (GO:0051130)", "fe": 3.02, "genes": 12, "fdr": 0.03},
                {"term": "Pos regulation of molecular function (GO:0044093)", "fe": 2.9, "genes": 13, "fdr": 0.03},
                {"term": "Cellular component morphogenesis (GO:0032989)", "fe": 2.85, "genes": 10, "fdr": 0.05},
                {"term": "Regulation of cell component org (GO:0051128)", "fe": 2.43, "genes": 17, "fdr": 0.03},
                {"term": "Cellular component assembly (GO:0022607)", "fe": 2.31, "genes": 19, "fdr": 0.028},
                {"term": "Cell development (GO:0048468)", "fe": 2.24, "genes": 16, "fdr": 0.05},
                {"term": "Regulation of molecular function (GO:0065009)", "fe": 2.17, "genes": 20, "fdr": 0.03},
                {"term": "Cellular component biogenesis (GO:0044085)", "fe": 2.13, "genes": 19, "fdr": 0.035}
              ]},
              "mark": {"type": "circle", "opacity": 0.8},
              "encoding": {
                "y": {"field": "term", "type": "nominal", "sort": null,
                  "scale": {"type": "point", "padding": 1},
                  "axis": {"title": null, "labelFontSize": 16.7, "labelColor": "#1A1A1A", "labelLimit": 0, "labelPadding": 2,
                    "tickColor": "#333333", "tickSize": 5, "tickWidth": 1.2, "domain": false, "grid": true, "gridColor": "#EBEBEB", "gridWidth": 1.2}},
                "x": {"field": "fe", "type": "quantitative",
                  "scale": {"type": "log", "domain": [0.78, 180], "nice": false},
                  "axis": {"title": null, "labels": false, "ticks": false, "domain": false, "grid": true,
                    "values": [1, 1.5, 2, 3, 4, 5, 6, 7, 8, 9, 10, 15, 20, 30, 40, 50, 60, 70, 80, 90, 100, 150],
                    "gridWidth": {"condition": {"test": "indexof([1,2,5,10,50,100], datum.value) < 0", "value": 0.6}, "value": 1.2}}},
                "size": {"field": "genes", "type": "quantitative", "scale": {"domain": [1, 20], "range": [45, 740]}, "legend": null},
                "color": {"field": "fdr", "type": "quantitative",
                  "scale": {"domain": [0.005, 0.1], "range": ["#E3262A", "#F5EB24"], "interpolate": "lab"},
                  "legend": {"title": "FDR", "orient": "none", "legendX": 175, "legendY": 148, "direction": "vertical",
                    "gradientLength": 182, "gradientThickness": 37, "gradientStrokeWidth": 0, "gradientOpacity": 1,
                    "values": [0.025, 0.05, 0.075, 0.1], "format": ".3f",
                    "labelFontSize": 16.5, "labelColor": "#1A1A1A", "labelOffset": 4,
                    "titleFontSize": 18, "titleColor": "#1A1A1A", "titleAnchor": "middle", "titlePadding": 18,
                    "padding": 7, "strokeColor": "#333333", "fillColor": "white"}}
              }
            },
            {
              "width": 286,
              "height": 321,
              "view": {"stroke": "#333333", "strokeWidth": 1.5},
              "data": {"values": [
                {"term": "Apical dendrite (GO:0097440)", "fe": 25.9, "genes": 1, "fdr": 0.035},
                {"term": "Parallel fiber to Purkinje cell synapse (GO:0098688)", "fe": 24.0, "genes": 1, "fdr": 0.035},
                {"term": "Basement membrane (GO:0005604)", "fe": 9.8, "genes": 4, "fdr": 0.04},
                {"term": "Condensed chromosome, centromere (GO:0000779)", "fe": 8.9, "genes": 4, "fdr": 0.04},
                {"term": "Midbody (GO:0030496)", "fe": 7.3, "genes": 6, "fdr": 0.04},
                {"term": "Dendritic spine (GO:0043197)", "fe": 6.3, "genes": 6, "fdr": 0.035},
                {"term": "Adherens junction (GO:0005912)", "fe": 5.3, "genes": 7, "fdr": 0.035},
                {"term": "Spindle (GO:0005819)", "fe": 4.7, "genes": 7, "fdr": 0.04},
                {"term": "Postsynaptic specialization (GO:0099572)", "fe": 4.5, "genes": 8, "fdr": 0.04},
                {"term": "Receptor complex (GO:0043235)", "fe": 4.26, "genes": 7, "fdr": 0.05},
                {"term": "Asymmetric synapse (GO:0032279)", "fe": 4.1, "genes": 7, "fdr": 0.05},
                {"term": "Synaptic membrane (GO:0097060)", "fe": 3.99, "genes": 8, "fdr": 0.045},
                {"term": "Cell junction (GO:0030054)", "fe": 3.8, "genes": 12, "fdr": 0.015},
                {"term": "Neuronal cell body (GO:0043025)", "fe": 3.8, "genes": 9, "fdr": 0.045},
                {"term": "Perinuclear region of cytoplasm (GO:0048471)", "fe": 3.38, "genes": 9, "fdr": 0.04},
                {"term": "Cytoskeleton (GO:0005856)", "fe": 2.22, "genes": 16, "fdr": 0.045},
                {"term": "Cell projection (GO:0042995)", "fe": 2.18, "genes": 17, "fdr": 0.045}
              ]},
              "mark": {"type": "circle", "opacity": 0.8},
              "encoding": {
                "y": {"field": "term", "type": "nominal", "sort": null,
                  "scale": {"type": "point", "padding": 0.75},
                  "axis": {"title": null, "labelFontSize": 16.7, "labelColor": "#1A1A1A", "labelLimit": 0, "labelPadding": 2,
                    "tickColor": "#333333", "tickSize": 5, "tickWidth": 1.2, "domain": false, "grid": true, "gridColor": "#EBEBEB", "gridWidth": 1.2}},
                "x": {"field": "fe", "type": "quantitative",
                  "scale": {"type": "log", "domain": [0.78, 180], "nice": false},
                  "axis": {"title": "Fold enrichment", "titleFontSize": 22, "titleColor": "#000000", "titleX": 162, "titlePadding": 8,
                    "domain": false, "grid": true,
                    "values": [1, 1.5, 2, 3, 4, 5, 6, 7, 8, 9, 10, 15, 20, 30, 40, 50, 60, 70, 80, 90, 100, 150],
                    "labelExpr": "indexof([1,2,5,10,50,100], datum.value) >= 0 ? format(datum.value, 'd') : ''",
                    "labelFontSize": 16.8, "labelColor": "#333333", "labelOverlap": false, "labelFlush": false, "labelPadding": 3,
                    "tickColor": "#333333", "tickWidth": 1.2, "tickSize": 5,
                    "tickOpacity": {"condition": {"test": "indexof([1,2,5,10,50,100], datum.value) < 0", "value": 0}, "value": 1},
                    "gridWidth": {"condition": {"test": "indexof([1,2,5,10,50,100], datum.value) < 0", "value": 0.6}, "value": 1.2}}},
                "size": {"field": "genes", "type": "quantitative", "scale": {"domain": [1, 20], "range": [45, 740]},
                  "legend": {"title": "# Genes", "orient": "none", "legendX": 175, "legendY": 131, "values": [5, 10, 15, 20],
                    "symbolType": "circle", "symbolFillColor": "#333333", "symbolStrokeWidth": 0, "symbolOpacity": 1,
                    "labelFontSize": 16.8, "labelColor": "#1A1A1A", "labelOffset": 14,
                    "titleFontSize": 17, "titleColor": "#1A1A1A", "titleAnchor": "middle", "titlePadding": 13,
                    "gridAlign": "all", "rowPadding": 7,
                    "padding": 8, "strokeColor": "#333333", "fillColor": "white"}},
                "color": {"field": "fdr", "type": "quantitative",
                  "scale": {"domain": [0.005, 0.1], "range": ["#E3262A", "#F5EB24"], "interpolate": "lab"}, "legend": null}
              }
            }
          ]
        },
        {
          "spacing": 12,
          "vconcat": [
            {
              "width": 38, "height": 398,
              "view": {"fill": "#D9D9D9", "stroke": "#333333", "strokeWidth": 1.5},
              "data": {"values": [{"facet": "GO Biological Process"}]},
              "mark": {"type": "text", "angle": 90, "fontSize": 17, "color": "#1A1A1A", "font": "DejaVu Sans"},
              "encoding": {"text": {"field": "facet", "type": "nominal"}}
            },
            {
              "width": 38, "height": 321,
              "view": {"fill": "#D9D9D9", "stroke": "#333333", "strokeWidth": 1.5},
              "data": {"values": [{"facet": "GO Cellular Component"}]},
              "mark": {"type": "text", "angle": 90, "fontSize": 17, "color": "#1A1A1A", "font": "DejaVu Sans"},
              "encoding": {"text": {"field": "facet", "type": "nominal"}}
            }
          ]
        }
      ]
    }
  ]
}
